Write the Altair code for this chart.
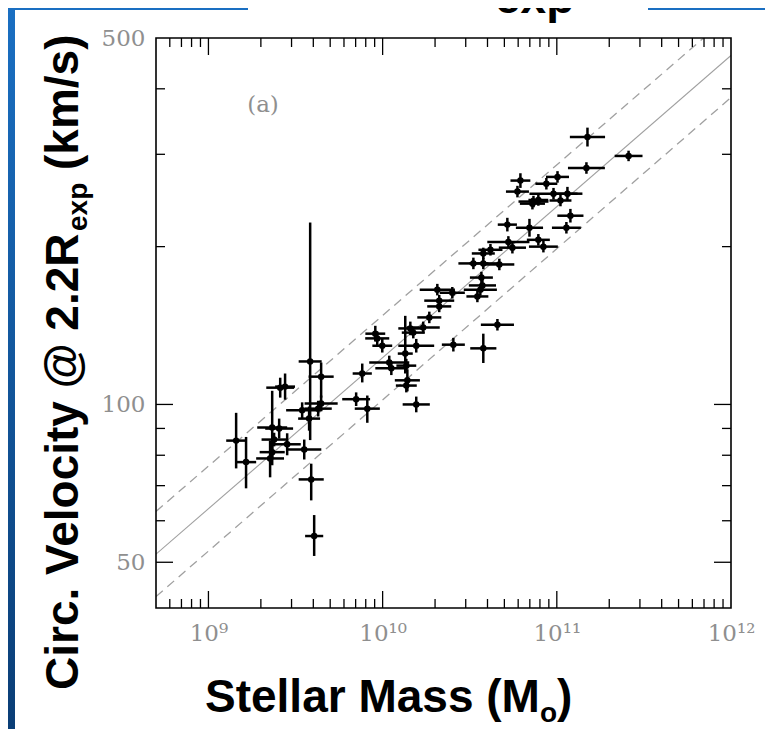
import altair as alt
import pandas as pd

# ---------------- data ----------------
# log10 stellar mass (Msun) and half width of its error bar (dex)
log_mass = [9.159, 9.216, 9.354, 9.366, 9.377, 9.366, 9.406, 9.412, 9.440, 9.452,
            9.550, 9.538, 9.578, 9.584, 9.647, 9.647, 9.630, 9.590, 9.607, 9.848,
            9.883, 9.912, 9.958, 9.969, 9.998, 10.038, 10.050, 10.130, 10.136, 10.142,
            10.136, 10.159, 10.176, 10.193, 10.233, 10.268, 10.193, 10.314, 10.325, 10.325,
            10.400, 10.406, 10.578, 10.659, 10.544, 10.561, 10.573, 10.567, 10.521, 10.578,
            10.670, 10.578, 10.619, 10.722, 10.745, 10.894, 10.923, 10.716, 10.843, 11.055,
            11.078, 10.774, 10.791, 10.866, 10.894, 10.860, 10.981, 11.021, 11.061, 10.940,
            11.004, 11.170, 11.176, 11.412]
log_mass_err = [0.057, 0.058, 0.080, 0.072, 0.072, 0.086, 0.080, 0.080, 0.057, 0.078,
                0.098, 0.092, 0.063, 0.066, 0.072, 0.095, 0.078, 0.072, 0.052, 0.080,
                0.055, 0.072, 0.057, 0.069, 0.057, 0.115, 0.092, 0.043, 0.057, 0.072,
                0.060, 0.069, 0.066, 0.103, 0.095, 0.069, 0.078, 0.101, 0.086, 0.069,
                0.072, 0.066, 0.075, 0.095, 0.063, 0.095, 0.078, 0.066, 0.086, 0.080,
                0.086, 0.066, 0.069, 0.121, 0.078, 0.066, 0.083, 0.055, 0.078, 0.083,
                0.075, 0.066, 0.057, 0.086, 0.057, 0.072, 0.138, 0.063, 0.086, 0.063,
                0.066, 0.106, 0.101, 0.080]
# log10 circular velocity at 2.2 R_exp (km/s), lower / upper error (dex)
log_vel = [1.931, 1.890, 1.897, 1.909, 1.933, 1.956, 1.954, 2.032, 2.034, 1.924,
           1.914, 1.989, 1.973, 2.082, 2.053, 2.002, 1.992, 1.857, 1.749, 2.010,
           2.059, 1.992, 2.135, 2.126, 2.112, 2.080, 2.069, 2.097, 2.074, 2.046,
           2.036, 2.145, 2.137, 2.112, 2.147, 2.166, 2.000, 2.219, 2.198, 2.187,
           2.213, 2.114, 2.107, 2.152, 2.206, 2.219, 2.227, 2.242, 2.269, 2.269,
           2.267, 2.288, 2.295, 2.310, 2.299, 2.314, 2.301, 2.343, 2.337, 2.337,
           2.360, 2.406, 2.427, 2.387, 2.390, 2.383, 2.402, 2.389, 2.402, 2.421,
           2.434, 2.451, 2.510, 2.474]
log_vel_err_lo = [0.053, 0.050, 0.036, 0.013, 0.013, 0.072, 0.019, 0.019, 0.025, 0.021,
                  0.019, 0.015, 0.023, 0.150, 0.040, 0.015, 0.015, 0.040, 0.038, 0.013,
                  0.017, 0.027, 0.015, 0.013, 0.013, 0.013, 0.013, 0.038, 0.013, 0.021,
                  0.013, 0.013, 0.011, 0.013, 0.011, 0.011, 0.015, 0.011, 0.011, 0.011,
                  0.011, 0.013, 0.028, 0.011, 0.011, 0.011, 0.011, 0.011, 0.011, 0.011,
                  0.011, 0.011, 0.011, 0.011, 0.011, 0.011, 0.011, 0.013, 0.017, 0.011,
                  0.013, 0.011, 0.014, 0.011, 0.011, 0.011, 0.011, 0.011, 0.013, 0.011,
                  0.011, 0.011, 0.018, 0.010]
log_vel_err_hi = [0.053, 0.048, 0.034, 0.013, 0.013, 0.070, 0.019, 0.019, 0.025, 0.021,
                  0.019, 0.015, 0.023, 0.265, 0.027, 0.015, 0.015, 0.030, 0.040, 0.013,
                  0.019, 0.025, 0.015, 0.013, 0.013, 0.013, 0.013, 0.072, 0.013, 0.021,
                  0.013, 0.013, 0.011, 0.013, 0.011, 0.011, 0.015, 0.011, 0.011, 0.011,
                  0.011, 0.013, 0.028, 0.011, 0.011, 0.011, 0.011, 0.011, 0.011, 0.011,
                  0.011, 0.011, 0.011, 0.011, 0.011, 0.011, 0.011, 0.013, 0.017, 0.011,
                  0.013, 0.011, 0.014, 0.011, 0.011, 0.011, 0.011, 0.011, 0.013, 0.011,
                  0.011, 0.011, 0.018, 0.010]

# fit line and its scatter envelope (end points)
line_mass = [5e8, 1e12]
fit_vel = [51.8, 463.0]
upper_vel = [62.5, 555.0]
lower_vel = [43.0, 385.0]

# axis ticks and labels
x_domain = [5e8, 1e12]
y_domain = [40.9, 500]
x_label_values = [1e9, 1e10, 1e11, 1e12]
x_major_ticks = [1e9, 1e10, 1e11]
x_minor_ticks = [6e8, 7e8, 8e8, 9e8,
                 2e9, 3e9, 4e9, 5e9, 6e9, 7e9, 8e9, 9e9,
                 2e10, 3e10, 4e10, 5e10, 6e10, 7e10, 8e10, 9e10,
                 2e11, 3e11, 4e11, 5e11, 6e11, 7e11, 8e11, 9e11]
y_label_values = [50, 100, 500]
y_major_ticks = [50, 100]
y_minor_ticks = [60, 70, 80, 90, 200, 300, 400]

# ---------------- tables ----------------
df = pd.DataFrame({"lm": log_mass, "dm": log_mass_err, "lv": log_vel,
                   "dlo": log_vel_err_lo, "dhi": log_vel_err_hi})
df["M"] = 10 ** df["lm"]
df["Mlo"] = 10 ** (df["lm"] - df["dm"])
df["Mhi"] = 10 ** (df["lm"] + df["dm"])
df["V"] = 10 ** df["lv"]
df["Vlo"] = 10 ** (df["lv"] - df["dlo"])
df["Vhi"] = 10 ** (df["lv"] + df["dhi"])

lines = pd.DataFrame({"M": line_mass, "fit": fit_vel, "up": upper_vel, "lo": lower_vel})

W, H = 575, 570
xs = alt.Scale(type="log", domain=x_domain, nice=False)
ys = alt.Scale(type="log", domain=y_domain, nice=False)

LABEL_FONT = "DejaVu Serif"
LABEL_COLOR = "#8f8f8f"
xa = alt.Axis(values=x_label_values, ticks=False, domain=False, grid=False,
              labelFont=LABEL_FONT, labelFontSize=23, labelColor=LABEL_COLOR,
              labelPadding=14, labelFlush=False, zindex=2, title=None,
              labelExpr="datum.value > 5e11 ? '10¹²' : datum.value > 5e10 ? '10¹¹' : datum.value > 5e9 ? '10¹⁰' : '10⁹'")
ya = alt.Axis(values=y_label_values, ticks=False, domain=False, grid=False,
              labelFont=LABEL_FONT, labelFontSize=23, labelColor=LABEL_COLOR,
              labelPadding=11, labelFlush=False, zindex=2, title=None)


def X(field):
    return alt.X(field, scale=xs, axis=xa, title=None)


def Y(field):
    return alt.Y(field, scale=ys, axis=ya, title=None)


one = pd.DataFrame({"a": [0]})

# background: blue slide + white panel
bg_grad = alt.Gradient(gradient="linear", x1=0, x2=0, y1=0, y2=1,
                       stops=[alt.GradientStop(color="#1a6fc2", offset=0),
                              alt.GradientStop(color="#0a3d75", offset=1)])
blue = alt.Chart(one).mark_rect(color=bg_grad).encode(
    x=alt.value(-148), x2=alt.value(W + 40), y=alt.value(-30), y2=alt.value(H + 130))
white = alt.Chart(one).mark_rect(color="white").encode(
    x=alt.value(-141), x2=alt.value(W + 40), y=alt.value(-28), y2=alt.value(693))
white_top = alt.Chart(one).mark_rect(color="white").encode(
    x=alt.value(92), x2=alt.value(492), y=alt.value(-40), y2=alt.value(-20))
exp_top = alt.Chart(one).mark_text(font="Liberation Sans", fontWeight="bold", fontSize=46,
                                   align="left", baseline="alphabetic", color="black").encode(
    x=alt.value(339), y=alt.value(-25), text=alt.value("exp"))

# plot frame
frame = alt.Chart(one).mark_rect(fillOpacity=0, stroke="black", strokeWidth=1.6).encode(
    x=alt.value(0), x2=alt.value(W), y=alt.value(0), y2=alt.value(H))


# inward ticks on all four sides
def xticks(vals, length):
    d = pd.DataFrame({"t": vals})
    bot = alt.Chart(d).mark_rule(color="black", strokeWidth=1.3).encode(
        x=X("t:Q"), y=alt.value(H), y2=alt.value(H - length))
    top = alt.Chart(d).mark_rule(color="black", strokeWidth=1.3).encode(
        x=X("t:Q"), y=alt.value(0), y2=alt.value(length))
    return [bot, top]


def yticks(vals, length):
    d = pd.DataFrame({"t": vals})
    left = alt.Chart(d).mark_rule(color="black", strokeWidth=1.3).encode(
        y=Y("t:Q"), x=alt.value(0), x2=alt.value(length))
    right = alt.Chart(d).mark_rule(color="black", strokeWidth=1.3).encode(
        y=Y("t:Q"), x=alt.value(W), x2=alt.value(W - length))
    return [left, right]


ticks = xticks(x_major_ticks, 17) + xticks(x_minor_ticks, 9) + \
        yticks(y_major_ticks, 17) + yticks(y_minor_ticks, 9)

fit_line = alt.Chart(lines).mark_line(color="#a0a0a0", strokeWidth=1.1, clip=True).encode(
    x=X("M:Q"), y=Y("fit:Q"))
up_line = alt.Chart(lines).mark_line(color="#a0a0a0", strokeWidth=1.3, strokeDash=[9, 6], clip=True).encode(
    x=X("M:Q"), y=Y("up:Q"))
lo_line = alt.Chart(lines).mark_line(color="#a0a0a0", strokeWidth=1.3, strokeDash=[9, 6], clip=True).encode(
    x=X("M:Q"), y=Y("lo:Q"))

xerr = alt.Chart(df).mark_rule(color="black", strokeWidth=2.5, clip=True).encode(
    x=X("Mlo:Q"), x2="Mhi:Q", y=Y("V:Q"))
yerr = alt.Chart(df).mark_rule(color="black", strokeWidth=2.5, clip=True).encode(
    x=X("M:Q"), y=Y("Vlo:Q"), y2="Vhi:Q")
pts = alt.Chart(df).mark_circle(color="black", size=42, opacity=1).encode(
    x=X("M:Q"), y=Y("V:Q"))

panel = alt.Chart(one).mark_text(font=LABEL_FONT, fontSize=23, color=LABEL_COLOR,
                                 align="center", baseline="middle").encode(
    x=alt.value(107), y=alt.value(67), text=alt.value("(a)"))

TF = "Liberation Sans"
xt1 = alt.Chart(one).mark_text(font=TF, fontWeight="bold", fontSize=46, align="left",
                               baseline="alphabetic", color="black").encode(
    x=alt.value(49), y=alt.value(674), text=alt.value("Stellar Mass (M"))
xt2 = alt.Chart(one).mark_text(font=TF, fontWeight="bold", fontSize=28, align="left",
                               baseline="alphabetic", color="black").encode(
    x=alt.value(384), y=alt.value(684), text=alt.value("o"))
xt3 = alt.Chart(one).mark_text(font=TF, fontWeight="bold", fontSize=46, align="left",
                               baseline="alphabetic", color="black").encode(
    x=alt.value(401), y=alt.value(674), text=alt.value(")"))

yt1 = alt.Chart(one).mark_text(font=TF, fontWeight="bold", fontSize=46, align="left",
                               baseline="alphabetic", angle=270, color="black").encode(
    x=alt.value(-78), y=alt.value(652), text=alt.value("Circ. Velocity @ 2.2R"))
yt2 = alt.Chart(one).mark_text(font=TF, fontWeight="bold", fontSize=28, align="left",
                               baseline="alphabetic", angle=270, color="black").encode(
    x=alt.value(-69), y=alt.value(193), text=alt.value("exp"))
yt3 = alt.Chart(one).mark_text(font=TF, fontWeight="bold", fontSize=46, align="left",
                               baseline="alphabetic", angle=270, color="black").encode(
    x=alt.value(-78), y=alt.value(132), text=alt.value("(km/s)"))

chart = alt.layer(
    blue, white, white_top, exp_top,
    fit_line, up_line, lo_line, *ticks, frame,
    xerr, yerr, pts, panel,
    xt1, xt2, xt3, yt1, yt2, yt3,
).properties(
    width=W, height=H,
    padding={"left": 148, "top": 30, "right": 34, "bottom": 121},
    autosize=alt.AutoSizeParams(type="none"),
).configure_view(stroke=None).configure(background="white")

chart.save("out.html", embed_options={"renderer": "svg", "actions": False})
